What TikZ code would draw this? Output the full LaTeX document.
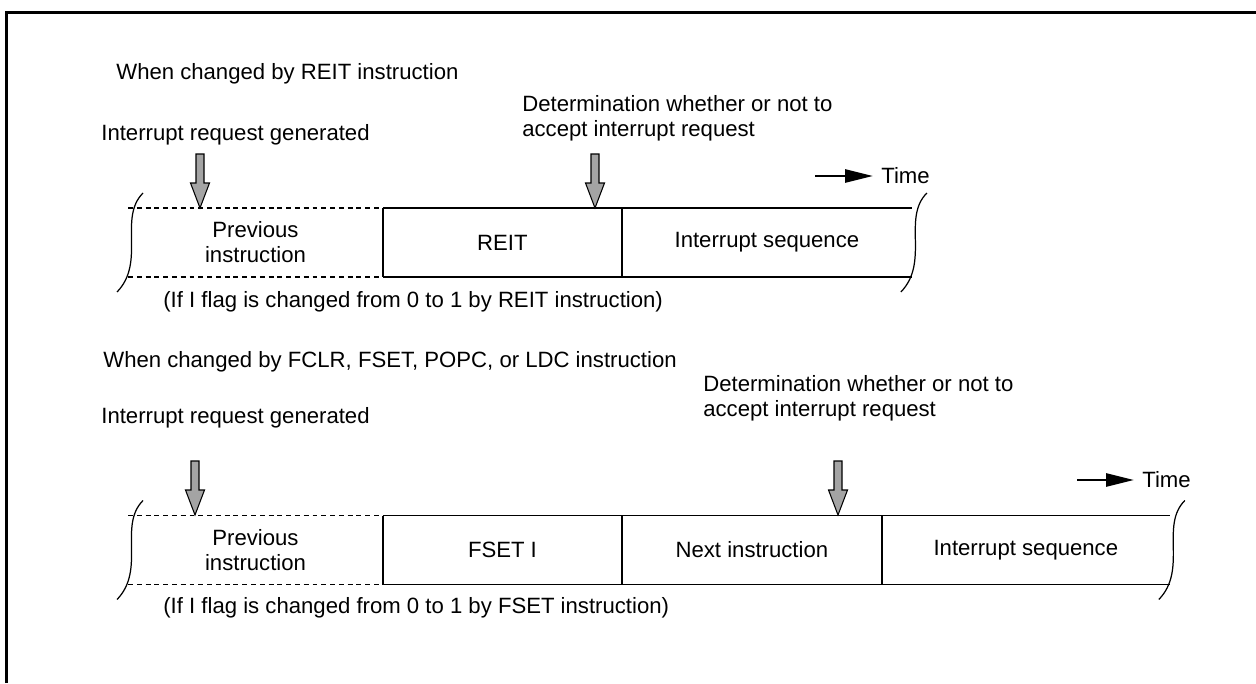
\documentclass[tikz,border=0pt]{standalone}
\usepackage{fontspec}
\setmainfont{Liberation Sans}
\usepackage{xcolor}
\definecolor{cLine}{HTML}{000000}
\definecolor{cReq}{HTML}{A4A4A4}
\usetikzlibrary{positioning,arrows.meta}
\tikzset{
  node-text/.style={inner sep=0pt,anchor=west,align=left,
    font=\fontsize{12.6}{14.2}\selectfont},
  node-cell/.style={inner sep=0pt,outer sep=0pt,minimum height=1.38cm,
    align=center,font=\fontsize{12.6}{14.2}\selectfont},
  rail/.style={line width=1.1pt,draw=cLine},
  rail-dotted/.style={line width=1.1pt,draw=cLine,dash pattern=on 2.8pt off 2.2pt},
  divider/.style={line width=0.8pt,draw=cLine},
  frame/.style={line width=1.4pt,draw=cLine},
  arrow-time/.style={-{Triangle[length=5.6mm,width=2.6mm]},line width=1.5pt,
    draw=cLine,shorten >=1.6mm},
  % wavy break at the ends of a time band
  brk/.pic={\draw[line width=0.7pt] (15,-49.5) .. controls (-10,-24.5) and (18,19.5) .. (-11,49.5);},
  % grey block arrow, tip at the pic origin
  req/.pic={\filldraw[fill=cReq,draw=cLine,line width=0.6pt]
    (0,0) -- (-9.5,-25) -- (-4,-25) -- (-4,-54) -- (4,-54) -- (4,-25) -- (9.5,-25) -- cycle;},
}
\begin{document}
\begin{tikzpicture}[x=0.02cm,y=-0.02cm,node distance=0pt]
  \useasboundingbox (0,0) rectangle (1256,683);
  \draw[frame] (6.5,683) |- (1256,12.5);

  % changed by REIT
  \node[node-text] (ttl-a)  at (116,74)    {When changed by REIT instruction};
  \node[node-text] (gen-a)  at (101,135)   {Interrupt request generated};
  \node[node-text] (det-a)  at (522,118.5) {Determination whether or not to\\accept interrupt request};
  \node[node-text] (time-a) at (881,176)   {Time};
  \coordinate (time-a-tail) at (815,176);
  \node[node-cell,minimum width=5.1cm]               (prev-a) at (255.5,242.5) {Previous\\instruction};
  \node[node-cell,minimum width=4.78cm,right=of prev-a] (reit)  {REIT};
  \node[node-cell,minimum width=5.8cm,right=of reit]    (seq-a) {Interrupt sequence};
  \node[node-text] (note-a) at (163,302) {(If I flag is changed from 0 to 1 by REIT instruction)};
  \draw[rail-dotted] (prev-a.north west) -- (prev-a.north east);
  \draw[rail-dotted] (prev-a.south west) -- (prev-a.south east);
  \draw[rail]    (reit.north west) -- (seq-a.north east);
  \draw[rail]    (reit.south west) -- (seq-a.south east);
  \draw[divider] (reit.north west) -- (reit.south west);
  \draw[divider] (seq-a.north west) -- (seq-a.south west);
  \pic at (prev-a.west) {brk};
  \pic at (seq-a.east)  {brk};
  \pic at (200,208) {req};
  \pic at (595,208) {req};
  \draw[arrow-time] (time-a-tail) -- (time-a.west);

  % changed by FCLR, FSET, POPC, LDC
  \node[node-text] (ttl-b)  at (103,362) {When changed by FCLR, FSET, POPC, or LDC instruction};
  \node[node-text] (gen-b)  at (101,418) {Interrupt request generated};
  \node[node-text] (det-b)  at (703,398) {Determination whether or not to\\accept interrupt request};
  \node[node-text] (time-b) at (1142,480) {Time};
  \coordinate (time-b-tail) at (1077,480);
  \node[node-cell,minimum width=5.1cm]                (prev-b) at (255.5,550) {Previous\\instruction};
  \node[node-cell,minimum width=4.78cm,right=of prev-b] (fset)  {FSET I};
  \node[node-cell,minimum width=5.2cm,right=of fset]    (next)  {Next instruction};
  \node[node-cell,minimum width=5.76cm,right=of next]   (seq-b) {Interrupt sequence};
  \node[node-text] (note-b) at (163,608) {(If I flag is changed from 0 to 1 by FSET instruction)};
  \draw[rail-dotted] (prev-b.north west) -- (prev-b.north east);
  \draw[rail-dotted] (prev-b.south west) -- (prev-b.south east);
  \draw[rail]    (fset.north west) -- (seq-b.north east);
  \draw[rail]    (fset.south west) -- (seq-b.south east);
  \draw[divider] (fset.north west) -- (fset.south west);
  \draw[divider] (next.north west) -- (next.south west);
  \draw[divider] (seq-b.north west) -- (seq-b.south west);
  \pic at (prev-b.west) {brk};
  \pic at (seq-b.east)  {brk};
  \pic at (195,515) {req};
  \pic at (838,515) {req};
  \draw[arrow-time] (time-b-tail) -- (time-b.west);
\end{tikzpicture}
\end{document}
